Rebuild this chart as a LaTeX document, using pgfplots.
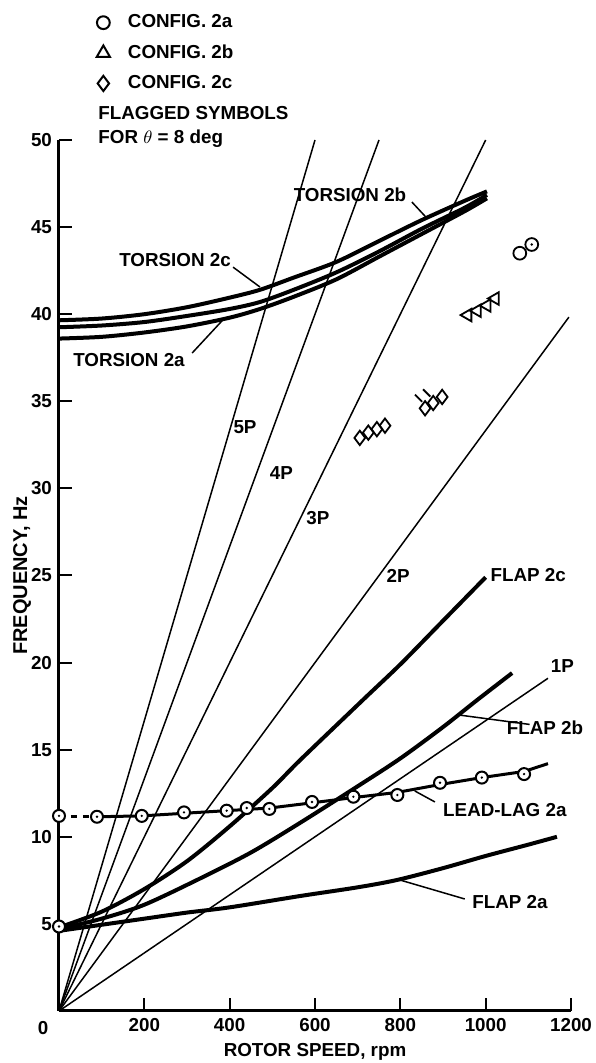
\documentclass[border=0pt]{standalone}
\usepackage{fontspec}
\setmainfont{Liberation Sans}
\usepackage{pgfplots}
\pgfplotsset{compat=1.18}
\newcommand\lf{\fontsize{9.4}{11}\selectfont\bfseries}
\pgfdeclareplotmark{odot}{%
  \pgfpathcircle{\pgfpointorigin}{\pgfplotmarksize}%
  \pgfusepathqfillstroke
  \begin{pgfscope}%
  \pgfsetfillcolor{black}%
  \pgfpathcircle{\pgfpointorigin}{0.22\pgfplotmarksize}%
  \pgfusepathqfill
  \end{pgfscope}}
\pgfdeclareplotmark{flag}{%
  \pgfpathmoveto{\pgfpoint{-0.4\pgfplotmarksize}{0.9\pgfplotmarksize}}%
  \pgfpathlineto{\pgfpoint{-1.4\pgfplotmarksize}{1.9\pgfplotmarksize}}%
  \pgfusepathqstroke}
\begin{document}
\begin{tikzpicture}
\begin{axis}[
  scale only axis, width=256pt, height=435.5pt,
  xmin=0, xmax=1200, ymin=0, ymax=50,
  axis lines=left, axis line style={-, line width=1.5pt},
  clip=false,
  xtick={200,400,...,1200}, ytick={5,10,...,50},
  tick align=inside, major tick length=6.5pt,
  tick style={black, line width=1pt},
  /pgf/number format/assume math mode=true,
  /pgf/number format/1000 sep={},
  ticklabel style={font=\lf},
  xlabel={ROTOR SPEED, rpm}, ylabel={FREQUENCY, Hz},
  label style={font=\lf},
  xlabel style={at={(axis description cs:0.5,-0.047)}, anchor=center},
  ylabel style={at={(axis description cs:-0.072,0.5)}, anchor=center, font=\fontsize{10}{12}\selectfont\bfseries},
  legend style={draw=none, fill=none, font=\lf,
    at={(axis description cs:0.073,1.149)}, anchor=north west,
    inner sep=0pt, row sep=3pt, cells={anchor=west},
    /tikz/every odd column/.append style={column sep=7pt}},
]
\addlegendimage{only marks, mark=o, mark size=3.2pt, line width=1pt}
\addlegendentry{CONFIG. 2a}
\addlegendimage{only marks, mark=triangle, mark size=3.8pt, line width=1pt}
\addlegendentry{CONFIG. 2b}
\addlegendimage{only marks, mark=diamond, mark size=3.8pt, line width=1pt}
\addlegendentry{CONFIG. 2c}

% per-rev lines
\addplot[black, line width=0.75pt] coordinates {(0,0) (600,50)};
\addplot[black, line width=0.75pt] coordinates {(0,0) (750,50)};
\addplot[black, line width=0.75pt] coordinates {(0,0) (1000,50)};
\addplot[black, line width=0.75pt] coordinates {(0,0) (1195,39.83)};
\addplot[black, line width=0.75pt] coordinates {(0,0) (1146,19.1)};

% torsion
\addplot[black, line width=2pt, smooth] coordinates {(0,39.65) (100,39.75) (200,40.0) (300,40.4) (400,40.95) (471,41.4) (550,42.1) (650,43.0) (750,44.2) (850,45.4) (950,46.5) (1003,47.05)};
\addplot[black, line width=2pt, smooth] coordinates {(0,39.25) (100,39.35) (200,39.55) (300,39.9) (400,40.3) (471,40.7) (550,41.4) (650,42.4) (750,43.6) (850,44.9) (950,46.1) (1003,46.85)};
\addplot[black, line width=2pt, smooth] coordinates {(0,38.6) (100,38.7) (200,38.95) (300,39.3) (400,39.8) (471,40.3) (550,41.0) (650,42.0) (750,43.3) (850,44.6) (950,45.9) (1003,46.65)};

% flap
\addplot[black, line width=2pt, smooth] coordinates {(0,4.6) (100,4.95) (200,5.3) (300,5.65) (400,5.95) (565,6.6) (700,7.1) (792,7.52) (900,8.2) (1000,8.9) (1100,9.55) (1167,10.0)};
\addplot[black, line width=2pt, smooth] coordinates {(0,4.7) (100,5.3) (200,6.1) (330,7.6) (450,9.1) (565,10.8) (700,12.9) (800,14.5) (900,16.3) (980,17.85) (1062,19.4)};
\addplot[black, line width=2pt, smooth] coordinates {(0,4.8) (100,5.7) (200,7.0) (300,8.6) (400,10.6) (500,12.8) (565,14.4) (712,17.85) (800,19.9) (900,22.4) (1000,24.9)};

% lead-lag
\addplot[black, line width=1.5pt, dashed] coordinates {(0,11.15) (89,11.15)};
\addplot[black, line width=1.5pt] coordinates {(89,11.15) (194,11.2) (293,11.35) (393,11.5) (493,11.65) (593,11.95) (690,12.25) (793,12.55) (893,13.0) (991,13.4) (1090,13.75) (1146,14.2)};
\addplot[only marks, mark=odot, mark size=3pt, line width=1pt, mark options={fill=white}] coordinates {(0,11.2) (89,11.15) (194,11.2) (293,11.4) (393,11.5) (440,11.65) (493,11.6) (593,12.0) (690,12.3) (793,12.4) (893,13.1) (991,13.4) (1090,13.6) (0,4.85)};

% test points
\addplot[only marks, mark=diamond, mark size=3.6pt, line width=0.9pt, mark options={fill=white}] coordinates {(705,32.9) (725,33.2) (745,33.4) (764,33.6) (858,34.6) (877,34.9) (898,35.25)};
\addplot[only marks, mark=flag, mark size=3.6pt, line width=0.9pt] coordinates {(858,34.6) (877,34.9)};
\addplot[only marks, mark=triangle, mark size=3.6pt, line width=0.9pt, mark options={fill=white, rotate=90}] coordinates {(958,39.95) (980,40.2) (1003,40.5) (1022,40.9)};
\addplot[only marks, mark=o, mark size=3.2pt, line width=0.9pt] coordinates {(1080,43.5)};
\addplot[only marks, mark=odot, mark size=3.2pt, line width=0.9pt, mark options={fill=white}] coordinates {(1108,44.0)};

% labels
\node[font=\lf] at (axis cs:436,33.5) {5P};
\node[font=\lf] at (axis cs:521,30.9) {4P};
\node[font=\lf] at (axis cs:607,28.3) {3P};
\node[font=\lf] at (axis cs:795,25.0) {2P};
\node[font=\lf] at (axis cs:1180,19.8) {1P};
\node[font=\lf, anchor=west] at (axis cs:995,25.0) {FLAP 2c};
\node[font=\lf] at (axis cs:1139,16.25) {FLAP 2b};
\draw[line width=0.75pt] (axis cs:1103,16.45) -- (axis cs:935,17.0);
\node[font=\lf] at (axis cs:1045,11.54) {LEAD-LAG 2a};
\draw[line width=0.75pt] (axis cs:881,12.0) -- (axis cs:834,12.63);
\node[font=\lf] at (axis cs:1057,6.26) {FLAP 2a};
\draw[line width=0.75pt] (axis cs:951,6.43) -- (axis cs:799,7.52);
\node[font=\lf] at (axis cs:272,43.1) {TORSION 2c};
\draw[line width=0.75pt] (axis cs:408,42.7) -- (axis cs:471,41.56);
\node[font=\lf] at (axis cs:164,37.37) {TORSION 2a};
\draw[line width=0.75pt] (axis cs:312,37.77) -- (axis cs:384,39.67);
\node[font=\lf] at (axis cs:682,46.84) {TORSION 2b};
\draw[line width=0.75pt] (axis cs:827,46.44) -- (axis cs:862,45.52);
\node[font=\lf] at (axis cs:-37,-0.98) {0};
\node[font=\lf, anchor=west, inner xsep=0pt] at (axis cs:91.4,51.55) {FLAGGED SYMBOLS};
\node[font=\lf, anchor=west, inner xsep=0pt] at (axis cs:91.4,50.06) {FOR $\theta$ = 8 deg};

\coordinate (O) at (rel axis cs:0,0);
\coordinate (T) at (rel axis cs:1,1);
\end{axis}
\pgfresetboundingbox
\path ([shift={(-29.5pt,-26pt)}]O) rectangle ([shift={(12pt,70pt)}]T);
\end{tikzpicture}
\end{document}
